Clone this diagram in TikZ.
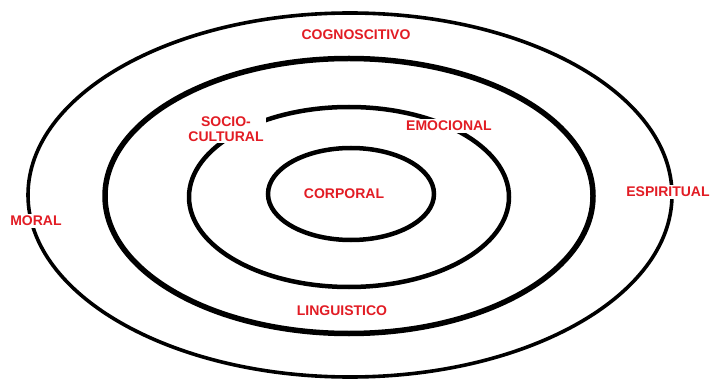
\documentclass[tikz,border=0pt]{standalone}
\usepackage{fontspec}
\newfontfamily\lblfont{Liberation Sans}
\usepackage{tikz}
\usetikzlibrary{shapes.geometric}

\definecolor{lblred}{RGB}{226,28,36}

\begin{document}
\begin{tikzpicture}[
    x=1pt, y=-1pt,
    ring/.style={ellipse, draw, inner sep=0pt},
    lbl/.style={text=lblred, fill=white, inner sep=2pt, align=center,
        font=\lblfont\bfseries\fontsize{14}{14.5}\selectfont}
]
\useasboundingbox (0,0) rectangle (712,382);

\node[ring, line width=3.6pt, minimum width=644pt, minimum height=364pt] (outer) at (350,195) {};
\node[ring, line width=5.5pt, minimum width=488pt, minimum height=275pt] (ring2) at (349,196) {};
\node[ring, line width=4.5pt, minimum width=320pt, minimum height=180pt] (ring3) at (349,197) {};
\node[ring, line width=4.5pt, minimum width=166pt, minimum height=92pt] (inner) at (351,194) {};

\node[lbl] (cog) at (356,35) {COGNOSCITIVO};
\node[lbl] (socio) at (226,129) {SOCIO-\\CULTURAL};
\node[lbl] (emo) at (449,126) {EMOCIONAL};
\node[lbl] (corp) at (344,194) {CORPORAL};
\node[lbl] (moral) at (36,221) {MORAL};
\node[lbl] (esp) at (668,192) {ESPIRITUAL};
\node[lbl] (ling) at (342,311) {LINGUISTICO};
\end{tikzpicture}
\end{document}
